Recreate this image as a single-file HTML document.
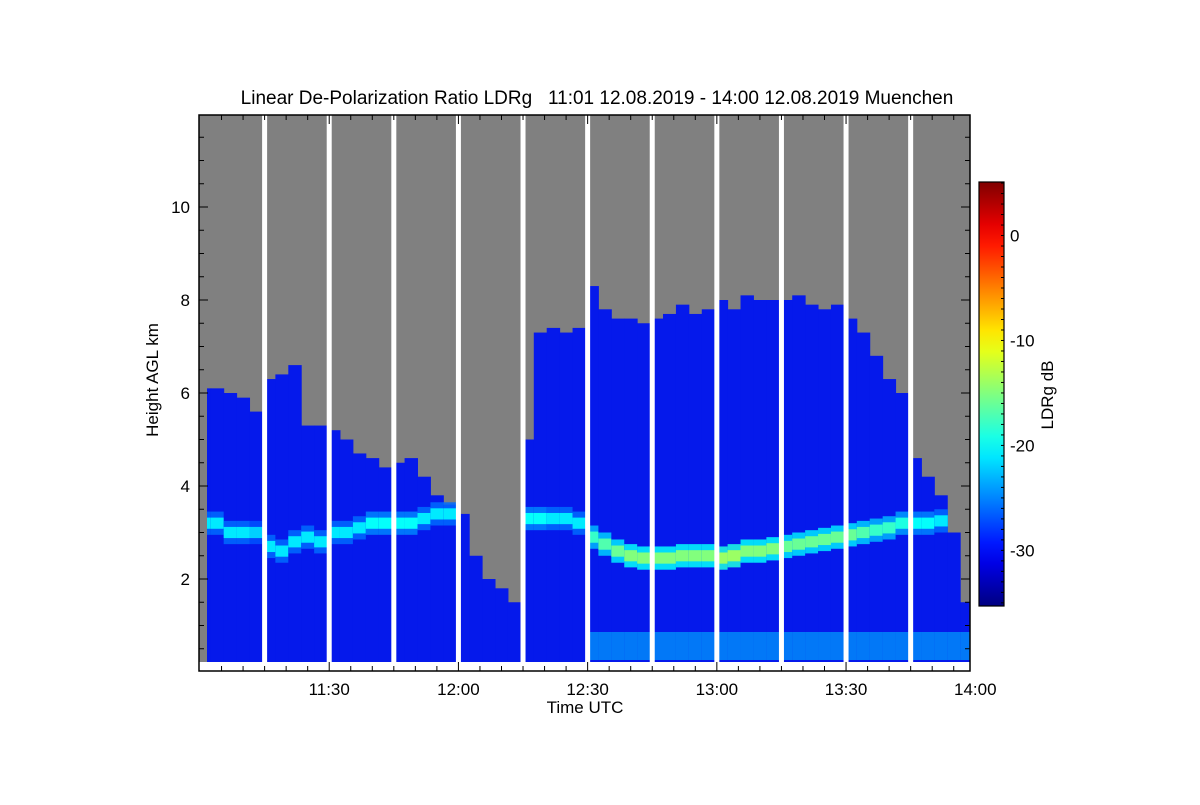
<!DOCTYPE html>
<html><head><meta charset="utf-8"><style>
html,body{margin:0;padding:0;background:#fff;}
svg text{font-family:"Liberation Sans",sans-serif;fill:#000;}
</style></head><body>
<svg id="chart" width="1200" height="800" viewBox="0 0 1200 800" xmlns="http://www.w3.org/2000/svg">
<defs><clipPath id="pclip"><rect x="199" y="115" width="771" height="556"/></clipPath></defs>
<text x="597" y="104" font-size="19" text-anchor="middle" style="white-space:pre">Linear De-Polarization Ratio LDRg   11:01 12.08.2019 - 14:00 12.08.2019 Muenchen</text>
<g id="plot" clip-path="url(#pclip)"></g>
<g id="axes"></g>
<g id="cbar"></g>
<text x="585" y="713" font-size="17" text-anchor="middle">Time UTC</text>
<text transform="translate(158,380) rotate(-90)" font-size="17" text-anchor="middle">Height AGL km</text>
<text transform="translate(1053,395) rotate(-90)" font-size="17" text-anchor="middle">LDRg dB</text>
</svg>
<script>
// data (times in minutes since 00:00 UTC)
const times=[661,664,667,670,673,676,679,682,685,688,691,694,697,700,703,706,709,712,715,718,721,724,727,730,733,736,739,742,745,748,751,754,757,760,763,766,769,772,775,778,781,784,787,790,793,796,799,802,805,808,811,814,817,820,823,826,829,832,835,838];
const cloudTopKm=[6.1,6.1,6.0,5.9,5.6,6.3,6.4,6.6,5.3,5.3,5.2,5.0,4.7,4.6,4.4,4.5,4.6,4.2,3.8,3.6,3.4,2.5,2.0,1.8,1.5,5.0,7.3,7.4,7.3,7.4,8.3,7.8,7.6,7.6,7.5,7.6,7.7,7.9,7.7,7.8,8.0,7.8,8.1,8.0,8.0,8.0,8.1,7.9,7.8,7.9,7.6,7.3,6.8,6.3,6.0,4.6,4.2,3.8,3.0,1.5];
const bandKm=[3.2,3.2,3.0,3.0,3.0,2.7,2.6,2.8,2.9,2.8,3.0,3.0,3.1,3.2,3.2,3.2,3.2,3.3,3.4,3.4,3.4,3.4,3.4,3.4,3.4,3.3,3.3,3.3,3.3,3.2,2.9,2.75,2.6,2.5,2.45,2.45,2.45,2.5,2.5,2.5,2.45,2.5,2.6,2.6,2.65,2.7,2.75,2.8,2.85,2.9,2.95,3.0,3.05,3.1,3.2,3.2,3.2,3.25,3.3,3.3];
const bandLdr=[-21,-21,-21,-21,-22,-21,-21,-21,-21,-21,-21,-21,-21,-20,-20,-20,-20,-21,-21,-21,-21,-21,-21,-21,-21,-20,-20,-21,-21,-21,-18,-17,-16,-15,-15,-15,-15,-15,-15,-15,-14,-14,-15,-15,-15,-16,-16,-16,-16,-16,-16,-17,-18,-18,-19,-20,-20,-21,-21,-21];
const gapTimes=[675,690,705,720,735,750,765,780,795,810,825];
const xTickLabels=["11:30","12:00","12:30","13:00","13:30","14:00"];
const xTickTimes=[690,720,750,780,810,840];
const yTicks=[2,4,6,8,10];
const cTicks=[0,-10,-20,-30];

const NS="http://www.w3.org/2000/svg";
const L=199,R=970,T=115,B=671;
const x=t=>200+(t-660)*4.307;
const y=h=>672-h*46.5;
const CMIN=-35.3,CMAX=5.1,CT=182,CB=606;
const cy=v=>CB-(v-CMIN)/(CMAX-CMIN)*(CB-CT);
function jet(v){let f=(v-CMIN)/(CMAX-CMIN);f=Math.max(0,Math.min(1,f));
 const c=q=>Math.round(255*Math.max(0,Math.min(1,1.5-Math.abs(4*f-q))));
 return `rgb(${c(3)},${c(2)},${c(1)})`;}
function el(tag,attrs,parent){const e=document.createElementNS(NS,tag);for(const k in attrs)e.setAttribute(k,attrs[k]);parent.appendChild(e);return e;}
const plot=document.getElementById('plot');
const axes=document.getElementById('axes');
const cbar=document.getElementById('cbar');

el('rect',{x:L,y:T,width:R-L,height:B-T,fill:'#808080'},plot);
const blue='rgb(5,25,235)';
for(let i=0;i<times.length;i++){
 const x0=x(times[i]-1.5),w=x(times[i]+1.5)-x0+0.5;
 const col=el('rect',{x:x0,y:y(cloudTopKm[i]),width:w,height:662-y(cloudTopKm[i]),fill:blue},plot);
 
 
 if(bandKm[i]<cloudTopKm[i]){
  const o=el('rect',{x:x0,y:y(bandKm[i]+0.25),width:w,height:46.5*0.5,fill:jet(bandLdr[i]-5),opacity:0.85},plot);
  
  
  const c=el('rect',{x:x0,y:y(bandKm[i]+0.12),width:w,height:46.5*0.24,fill:jet(bandLdr[i])},plot);
  
  
 }
 if(times[i]>748){
  const s=el('rect',{x:x0,y:632,width:w,height:28,fill:jet(-23),opacity:0.6},plot);
  
  
 }
}
el('rect',{x:L,y:T,width:8,height:B-T,fill:'#808080'},plot);
el('rect',{x:L,y:662,width:R-L,height:B-662,fill:'#fff'},plot);
for(const g of gapTimes){
 const r=el('rect',{x:x(g)-2.5,y:T,width:5,height:B-T,fill:'#fff'},plot);
 
 
}
el('rect',{x:L,y:T,width:R-L,height:B-T,fill:'none',stroke:'#000','stroke-width':1.5},axes);
for(let t=665;t<=840;t+=5){const X=x(t);if(X>R)continue;const len=(t%30===0)?9:5;
 el('line',{x1:X,y1:B,x2:X,y2:B-len,stroke:'#000'},axes);
 el('line',{x1:X,y1:T,x2:X,y2:T+len,stroke:'#000'},axes);}
xTickLabels.forEach((lab,i)=>{const tx=el('text',{x:x(xTickTimes[i]),y:695,'font-size':17,'text-anchor':'middle'},axes);tx.textContent=lab;
 });
for(let h=0.5;h<12;h+=0.5){const Y=y(h);const len=(h%2===0)?9:5;
 el('line',{x1:L,y1:Y,x2:L+len,y2:Y,stroke:'#000'},axes);
 el('line',{x1:R,y1:Y,x2:R-len,y2:Y,stroke:'#000'},axes);}
yTicks.forEach(h=>{const tx=el('text',{x:190,y:y(h)+6,'font-size':17,'text-anchor':'end'},axes);tx.textContent=h;
 });
const defs=el('defs',{},cbar);
const lg=el('linearGradient',{id:'jetg',x1:0,y1:1,x2:0,y2:0},defs);
for(let k=0;k<=20;k++){const v=CMIN+(CMAX-CMIN)*k/20;el('stop',{offset:k/20,'stop-color':jet(v)},lg);}
el('rect',{x:979,y:CT,width:25,height:CB-CT,fill:'url(#jetg)',stroke:'#000','stroke-width':1.2},cbar);
for(let v=-35;v<=5;v++){el('line',{x1:1004,y1:cy(v),x2:1001,y2:cy(v),stroke:'#000'},cbar);}
cTicks.forEach(v=>{const tx=el('text',{x:1010,y:cy(v)+6,'font-size':17},cbar);tx.textContent=v;
 });
</script>
</body></html>
